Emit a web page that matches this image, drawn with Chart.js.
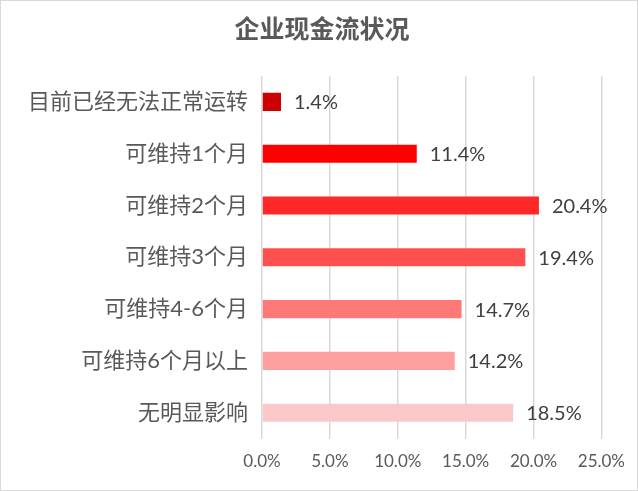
<!DOCTYPE html>
<html>
<head>
<meta charset="utf-8">
<script src="https://cdn.jsdelivr.net/npm/chart.js@4"></script>
<style>
    html, body { margin: 0; padding: 0; background: #ffffff; }
    #wrap { width: 638px; height: 491px; position: relative; }
</style>
</head>
<body>
<div id="wrap"><canvas id="canvas-1" width="638" height="491"></canvas></div>
<script>
var titleText = '企业现金流状况';
var categories = ['目前已经无法正常运转', '可维持1个月', '可维持2个月', '可维持3个月', '可维持4-6个月', '可维持6个月以上', '无明显影响'];
var shares = [1.4, 11.4, 20.4, 19.4, 14.7, 14.2, 18.5];
var barColors = ['#CC0000', '#FF0000', '#FF2828', '#FF5050', '#FF7878', '#FFA0A0', '#FAC8C8'];
var axisTicks = [0, 5, 10, 15, 20, 25];

var labelFont = "Lato, 'Noto Sans CJK SC', sans-serif";

// values printed at the end of each bar
var barLabels = {
    id: 'barLabels',
    afterDatasetsDraw: function (chart) {
        var ctx = chart.ctx;
        var meta = chart.getDatasetMeta(0);
        ctx.save();
        ctx.fillStyle = '#404040';
        ctx.font = '20px ' + labelFont;
        ctx.textAlign = 'left';
        ctx.textBaseline = 'middle';
        meta.data.forEach(function (bar, i) {
            ctx.fillText(shares[i].toFixed(1) + '%', bar.x + 13, bar.y + 1);
        });
        ctx.restore();
    }
};

// title (centred on the whole frame, not the plot) and thin grey frame
var frame = {
    id: 'frame',
    afterDraw: function (chart) {
        var ctx = chart.ctx;
        ctx.save();
        ctx.fillStyle = '#595959';
        ctx.font = 'bold 25px ' + labelFont;
        ctx.textAlign = 'center';
        ctx.textBaseline = 'middle';
        ctx.fillText(titleText, 322, 30);
        ctx.strokeStyle = '#d9d9d9';
        ctx.lineWidth = 1;
        ctx.strokeRect(0.5, 0.5, chart.width - 1, chart.height - 1);
        ctx.restore();
    }
};

var ctx = document.getElementById('canvas-1');
//noinspection JSUnusedLocalSymbols
var chart = new Chart(ctx, {
    type: 'bar',
    data: {
        labels: categories,
        datasets: [{
            data: shares,
            backgroundColor: barColors,
            borderWidth: 0,
            categoryPercentage: 1,
            barPercentage: 0.35
        }]
    },
    options: {
        indexAxis: 'y',
        responsive: false,
        animation: false,
        layout: {
            padding: {top: 76, left: 10, right: 35, bottom: 6}
        },
        plugins: {
            legend: {display: false},
            tooltip: {enabled: false},
            title: {display: false}
        },
        scales: {
            x: {
                min: 0,
                max: 25,
                afterBuildTicks: function (scale) {
                    scale.ticks = axisTicks.map(function (v) { return {value: v}; });
                },
                grid: {color: '#d9d9d9', lineWidth: 1.5, drawTicks: false},
                border: {display: false},
                ticks: {
                    color: '#595959',
                    font: {family: labelFont, size: 17},
                    padding: 13,
                    callback: function (v) { return Number(v).toFixed(1) + '%'; }
                }
            },
            y: {
                grid: {display: false, drawTicks: false},
                border: {display: false},
                afterFit: function (scale) { scale.width = 252; },
                ticks: {
                    color: '#595959',
                    font: {family: labelFont, size: 22},
                    padding: 14
                }
            }
        }
    },
    plugins: [barLabels, frame]
});
</script>
</body>
</html>
